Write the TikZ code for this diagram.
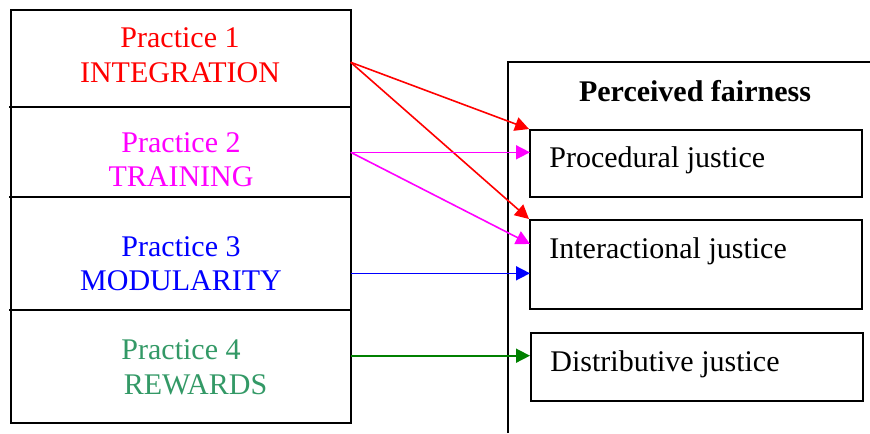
\documentclass[tikz,border=0pt]{standalone}
\usepackage{fontspec}
\setmainfont{Liberation Serif}
\usetikzlibrary{arrows.meta}
\definecolor{pred}{HTML}{FF0000}
\definecolor{pmag}{HTML}{FF00FF}
\definecolor{pblue}{HTML}{0000FF}
\definecolor{pgreen}{HTML}{339966}
\definecolor{agreen}{HTML}{008000}
\tikzset{
  lbl/.style={anchor=base, inner sep=0pt, font=\fontsize{15}{18}\selectfont},
  jlbl/.style={anchor=base west, inner sep=0pt, font=\fontsize{15}{18}\selectfont},
  jbox/.style={draw=black, line width=1pt, minimum width=166pt, inner sep=0pt},
  frame/.style={draw=black, line width=1pt},
  conn/.style={line width=0.8pt, -{Triangle[length=7pt,width=7pt]}},
}
\begin{document}
\begin{tikzpicture}[x=0.5pt,y=-0.5pt]
\useasboundingbox (0,0) rectangle (870,433);
% left column
\draw[frame] (11,10) rectangle (350.7,423);
\draw[frame] (9,107) -- (350.7,107);
\draw[frame] (9,197) -- (350.7,197);
\draw[frame] (9,310) -- (350.7,310);
\node[lbl, text=pred] (p1a) at (180,48) {Practice 1};
\node[lbl, text=pred] (p1b) at (180,83) {INTEGRATION};
\node[lbl, text=pmag] (p2a) at (181,152) {Practice 2};
\node[lbl, text=pmag] (p2b) at (181,186) {TRAINING};
\node[lbl, text=pblue] (p3a) at (181,256) {Practice 3};
\node[lbl, text=pblue] (p3b) at (181,290) {MODULARITY};
\node[lbl, text=pgreen] (p4a) at (181,359) {Practice 4};
\node[lbl, text=pgreen] (p4b) at (195.5,394) {REWARDS};
% right frame
\draw[frame] (508.3,433) -- (508.3,62) -- (870,62);
\node[lbl, font=\fontsize{15}{18}\selectfont\bfseries] (pf) at (695,101) {Perceived fairness};
\node[jbox, minimum height=33.5pt] (proc) at (696,163.5) {};
\node[jbox, minimum height=44.5pt] (inter) at (696,264.5) {};
\node[jbox, minimum height=34pt] (dist) at (697,367) {};
\node[jlbl] (procl) at (549,167) {Procedural justice};
\node[jlbl] (interl) at (549,258) {Interactional justice};
\node[jlbl] (distl) at (550,371) {Distributive justice};
% connector ends
\coordinate (s1) at (350.7,62.3);
\coordinate (s2) at (350.7,152.3);
\coordinate (s3) at (350.7,273.3);
\coordinate (s4) at (350.7,355.7);
\coordinate (e2a) at (530,152.3);
\coordinate (e2b) at (530,244);
\coordinate (e3) at (530,273.3);
\coordinate (e4) at (530,355.7);
\draw[conn, pred] (s1) -- (proc.north west);
\draw[conn, pred] (s1) -- (inter.north west);
\draw[conn, pmag] (s2) -- (e2a);
\draw[conn, pmag] (s2) -- (e2b);
\draw[conn, pblue] (s3) -- (e3);
\draw[conn, agreen] (s4) -- (e4);
\end{tikzpicture}
\end{document}
